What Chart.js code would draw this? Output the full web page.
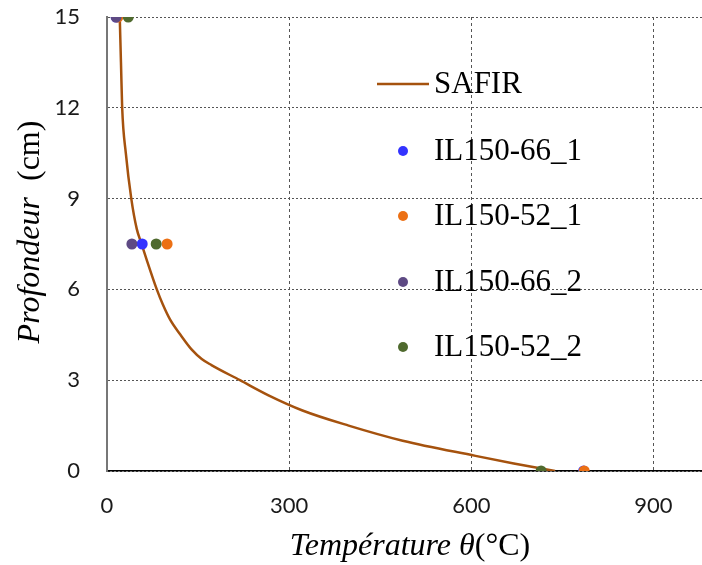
<!DOCTYPE html>
<html>
<head>
<meta charset="utf-8">
<script src="https://cdn.jsdelivr.net/npm/chart.js@4/dist/chart.umd.min.js"></script>
<style>
html,body{margin:0;padding:0;background:#fff;}
#wrap{width:702px;height:565px;position:relative;}
</style>
</head>
<body>
<div id="wrap"><canvas id="c" width="702" height="565"></canvas></div>
<script>
// SAFIR simulation: depth (cm) and temperature (°C)
const safirDepth = [15, 13.5, 12, 10.5, 9, 8, 7.5, 7, 6, 5.5, 5, 4.5, 4, 3.7, 3.5, 3, 2.5, 2, 1.5, 1, 0.5, 0.25, 0];
const safirTemp  = [21, 23, 25, 31, 40, 49, 57, 65, 82, 92, 104, 121, 140, 156, 172, 219, 266, 322, 398, 487, 607, 670, 738];

// Measurements
const il66_1_depth = [15, 7.5, 0];
const il66_1_temp  = [15, 58, 785];
const il52_1_depth = [15, 7.5, 0];
const il52_1_temp  = [18, 99, 786];
const il66_2_depth = [15, 7.5];
const il66_2_temp  = [15, 41];
const il52_2_depth = [15, 7.5, 0];
const il52_2_temp  = [35, 81, 715];

const xTicks = [0, 300, 600, 900];
const yTicks = [0, 3, 6, 9, 12, 15];

const seriesNames = ['SAFIR', 'IL150-66_1', 'IL150-52_1', 'IL150-66_2', 'IL150-52_2'];
const colors = ['#A5520E', '#3333FF', '#EC7014', '#5E4A84', '#4F6A2E'];

function pts(xs, ys){ return xs.map((x,i)=>({x:x, y:ys[i]})); }

const datasets = [
  {label: seriesNames[0], data: pts(safirTemp, safirDepth), showLine: true, borderColor: colors[0], borderWidth: 2.5, pointRadius: 0, cubicInterpolationMode: 'monotone', order: 5},
  {label: seriesNames[1], data: pts(il66_1_temp, il66_1_depth), showLine: false, backgroundColor: colors[1], borderWidth: 0, pointRadius: 5.5, order: 4},
  {label: seriesNames[2], data: pts(il52_1_temp, il52_1_depth), showLine: false, backgroundColor: colors[2], borderWidth: 0, pointRadius: 5.5, order: 3},
  {label: seriesNames[3], data: pts(il66_2_temp, il66_2_depth), showLine: false, backgroundColor: colors[3], borderWidth: 0, pointRadius: 5.5, order: 2},
  {label: seriesNames[4], data: pts(il52_2_temp, il52_2_depth), showLine: false, backgroundColor: colors[4], borderWidth: 0, pointRadius: 5.5, order: 1}
];

const serif = '"Liberation Serif", "Times New Roman", serif';

function drawMixed(ctx, parts, cx, cy){
  let total = 0;
  parts.forEach(p=>{ ctx.font = p.font; p.w = ctx.measureText(p.t).width; total += p.w; });
  let x = cx - total/2;
  parts.forEach(p=>{ ctx.font = p.font; ctx.fillText(p.t, x, cy); x += p.w; });
}

function zeroPad(s){ s.paddingTop = 0; s.paddingBottom = 0; s.paddingLeft = 0; s.paddingRight = 0; }

const decor = {
  id: 'decor',
  afterDraw(chart){
    const ctx = chart.ctx;
    ctx.save();
    ctx.fillStyle = '#000';
    ctx.textBaseline = 'alphabetic';
    ctx.textAlign = 'left';
    // X title
    drawMixed(ctx, [
      {t: 'Température ', font: 'italic 32px ' + serif},
      {t: 'θ', font: 'italic 32px ' + serif},
      {t: '(°C)', font: '32px ' + serif}
    ], 410, 555);
    // Y title
    ctx.save();
    ctx.translate(39, 232);
    ctx.rotate(-Math.PI/2);
    drawMixed(ctx, [
      {t: 'Profondeur', font: 'italic 32px ' + serif},
      {t: '  (cm)', font: '32px ' + serif}
    ], 0, 0);
    ctx.restore();
    // Legend
    ctx.textBaseline = 'middle';
    ctx.font = '31px ' + serif;
    const tx = 434;
    ctx.strokeStyle = colors[0];
    ctx.lineWidth = 2.5;
    ctx.beginPath(); ctx.moveTo(377, 84); ctx.lineTo(429, 84); ctx.stroke();
    ctx.fillStyle = '#000';
    ctx.fillText(seriesNames[0], tx, 85);
    const ys = [151, 216, 282, 347];
    for (let i=1;i<5;i++){
      ctx.fillStyle = colors[i];
      ctx.beginPath(); ctx.arc(403, ys[i-1], 5, 0, Math.PI*2); ctx.fill();
      ctx.fillStyle = '#000';
      ctx.fillText(seriesNames[i], tx, ys[i-1] + 1);
    }
    ctx.restore();
  }
};

new Chart(document.getElementById('c'), {
  type: 'scatter',
  data: {datasets},
  options: {
    responsive: false,
    animation: false,
    events: [],
    layout: {autoPadding: false, padding: {top: 17, right: 0, left: 0, bottom: 0}},
    plugins: {legend: {display: false}, tooltip: {enabled: false}},
    scales: {
      x: {
        type: 'linear', min: 0, max: 980,
        afterFit(s){ s.height = 94; zeroPad(s); },
        afterBuildTicks(s){ s.ticks = xTicks.map(v=>({value:v})); },
        ticks: {includeBounds: false, padding: 22, color: '#1a1a1a', font: {family: 'Lato', size: 22}},
        grid: {color: '#555', lineWidth: 1, drawTicks: false, tickLength: 0},
        border: {display: true, color: '#000', width: 1.5, dash: [3,3]}
      },
      y: {
        type: 'linear', min: 0, max: 15,
        afterFit(s){ s.width = 107; zeroPad(s); },
        afterBuildTicks(s){ s.ticks = yTicks.map(v=>({value:v})); },
        ticks: {includeBounds: false, padding: 27, color: '#1a1a1a', font: {family: 'Lato', size: 22}},
        grid: {color: '#555', lineWidth: 1, drawTicks: false, tickLength: 0},
        border: {display: true, color: '#777', width: 2, dash: [2,2]}
      }
    }
  },
  plugins: [decor]
});
</script>
</body>
</html>
